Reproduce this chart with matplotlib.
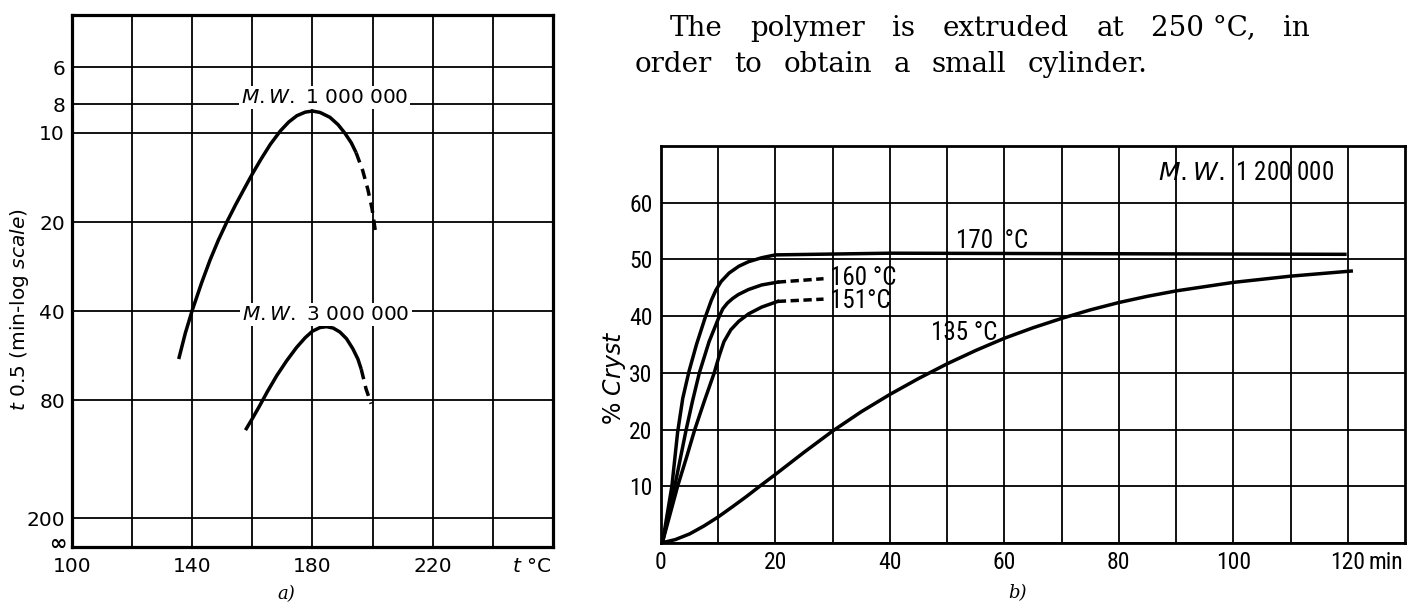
import matplotlib
matplotlib.use("Agg")
import matplotlib.pyplot as plt
from matplotlib import font_manager
from matplotlib.font_manager import FontProperties
from matplotlib.ticker import FixedLocator, FixedFormatter, NullLocator

# ---------------- data: panel a) (t 0.5 vs temperature, log scale) ----------------
a_xticks = [100, 120, 140, 160, 180, 200, 220, 240]
a_xlabels = ["100", "", "140", "", "180", "", "220", ""]
a_yticks = [6, 8, 10, 20, 40, 80, 200, 250]
a_ylabels = ["6", "8", "10", "20", "40", "80", "200", ""]
a_inf_label = "\u221e"

mw1_T = [135.5, 137.7, 140, 143.1, 145.9, 148.7, 151.5, 154.4, 157.2, 160, 162.8,
         166.0, 169.3, 172.1, 174.8, 177.6, 180, 182.5, 185.8, 188.5, 190.7, 192.9, 194.5]
mw1_t = [58.0, 47.4, 39.7, 32.1, 26.9, 23.0, 20.0, 17.5, 15.5, 13.75, 12.3,
         10.92, 9.85, 9.19, 8.75, 8.51, 8.44, 8.53, 8.86, 9.38, 10.0, 10.8, 11.66]
mw1_T_dash = [194.5, 196.7, 198.4, 199.8, 201.1]
mw1_t_dash = [11.66, 13.4, 15.5, 18.0, 22.1]

mw3_T = [157.7, 160, 162.2, 164.9, 168.1, 171.4, 174.7, 177.6, 180, 182.5, 184.7,
         186.9, 189.1, 191.3, 193.4, 195.1, 196.2]
mw3_t = [100.8, 92.1, 84.2, 75.0, 66.0, 58.8, 53.0, 49.1, 46.7, 45.4, 45.1,
         45.6, 47.0, 49.5, 53.5, 58.0, 62.7]
mw3_T_dash = [196.2, 197.8, 199.5]
mw3_t_dash = [62.7, 73.1, 82.1]

# ---------------- data: panel b) (% crystallinity vs time) ----------------
b_xticks = [0, 10, 20, 30, 40, 50, 60, 70, 80, 90, 100, 110, 120]
b_xlabels = ["0", "", "20", "", "40", "", "60", "", "80", "", "100", "", "120"]
b_yticks = [0, 10, 20, 30, 40, 50, 60]
b_ylabels = ["", "10", "20", "30", "40", "50", "60"]

c170_t = [0.3, 1.9, 2.9, 3.8, 4.9, 6.2, 7.8, 8.8, 9.6, 10.5, 11.9, 13.6, 15.3, 17.6,
          20.0, 40, 80, 119.5]
c170_y = [0.3, 10, 19.5, 25.5, 30.3, 35, 40, 42.8, 44.6, 46.1, 47.6, 48.8, 49.6, 50.3,
          50.8, 51.1, 51.0, 50.9]

c160_t = [0.3, 2.4, 3.4, 4.4, 5.5, 6.7, 8.4, 10.2, 10.8, 11.6, 12.5, 13.5, 15.3, 17.6, 20.4]
c160_y = [0.3, 10, 15, 20, 25, 30, 35.5, 40, 41.3, 42.3, 43.1, 43.8, 44.7, 45.5, 46.0]
c160_t_dash = [20.4, 28.4]
c160_y_dash = [46.0, 46.6]

c151_t = [0.3, 2.9, 4.4, 5.9, 7.6, 9.3, 10.2, 11.0, 12.2, 13.6, 15.3, 17.6, 20.4]
c151_y = [0.3, 10, 14.9, 20, 25.1, 30, 33.1, 35.5, 37.6, 39.1, 40.4, 41.6, 42.6]
c151_t_dash = [20.4, 28.4]
c151_y_dash = [42.6, 43.0]

c135_t = [0, 2.5, 5, 7.5, 10, 12.5, 15, 17.5, 20, 25, 30, 35, 40, 45, 50, 55, 60, 65,
          70, 75, 80, 85, 90, 95, 100, 110, 120.6]
c135_y = [0, 0.6, 1.6, 3.0, 4.6, 6.4, 8.25, 10.2, 12.1, 16.0, 19.75, 23.15, 26.2, 29.0,
          31.6, 33.95, 36.1, 37.95, 39.6, 41.1, 42.4, 43.5, 44.45, 45.2, 45.95, 47.05, 47.95]

# ---------------- fonts ----------------
def pick(fams, default="DejaVu Sans"):
    for f in fams:
        try:
            font_manager.findfont(FontProperties(family=f), fallback_to_default=False)
            return f
        except Exception:
            pass
    return default

narrow = pick(["Liberation Sans Narrow", "DejaVu Sans Condensed", "Roboto Condensed"])
plt.rcParams["font.family"] = ["DejaVu Sans"]
plt.rcParams["mathtext.fontset"] = "custom"
plt.rcParams["mathtext.it"] = "DejaVu Sans:italic"
plt.rcParams["mathtext.rm"] = "DejaVu Sans"

W, H = 1414, 605
fig = plt.figure(figsize=(W / 100, H / 100), dpi=100)
fig.patch.set_facecolor("white")

def fx(px):
    return px / W

def fy(py):
    return 1 - py / H

LW = 2.5
GRID = dict(color="black", linewidth=1.3)

# ---------------- panel a ----------------
axA = fig.add_axes([fx(72), fy(547), (553 - 72) / W, (547 - 15) / H])
axA.set_yscale("log")
axA.set_xlim(100, 260)
axA.set_ylim(250, 4)
axA.xaxis.set_major_locator(FixedLocator(a_xticks))
axA.xaxis.set_major_formatter(FixedFormatter(a_xlabels))
axA.yaxis.set_major_locator(FixedLocator(a_yticks))
axA.yaxis.set_major_formatter(FixedFormatter(a_ylabels))
axA.yaxis.set_minor_locator(NullLocator())
axA.grid(True, **GRID)
axA.tick_params(length=0, labelsize=14.5)
axA.tick_params(axis="x", pad=7)
axA.tick_params(axis="y", pad=5)
for s in axA.spines.values():
    s.set_linewidth(2.3)

kw = dict(color="black", lw=LW, solid_capstyle="butt", solid_joinstyle="round")
axA.plot(mw1_T, mw1_t, **kw)
axA.plot(mw1_T_dash, mw1_t_dash, color="black", lw=LW, ls=(0, (3, 2)))
axA.plot(mw3_T, mw3_t, **kw)
axA.plot(mw3_T_dash, mw3_t_dash, color="black", lw=LW, ls=(0, (3, 2)))

box = dict(facecolor="white", edgecolor="none", pad=1.5)
axA.text(184, 7.6, r"$\mathit{M.W.}$ 1 000 000", ha="center", va="center",
         fontsize=14.5, bbox=box, zorder=5)
axA.text(184.5, 41, r"$\mathit{M.W.}$ 3 000 000", ha="center", va="center",
         fontsize=14.5, bbox=box, zorder=5)
axA.annotate(r"$\mathit{t}$ °C", xy=(1, 0), xycoords="axes fraction",
             xytext=(-1, -7), textcoords="offset points", ha="right", va="top",
             fontsize=14.5)
axA.annotate(a_inf_label, xy=(0, a_yticks[-1]), xycoords=("axes fraction", "data"),
             xytext=(-4, 2), textcoords="offset points", ha="right", va="center",
             fontsize=15, fontweight="bold")
fig.text(fx(20), fy(310), r"$\mathit{t}$ 0.5 (min-log $\mathit{scale}$)",
         rotation=90, ha="center", va="center", fontsize=14.5)

# ---------------- panel b ----------------
axB = fig.add_axes([fx(661), fy(543), (1405 - 661) / W, (543 - 146) / H])
axB.set_xlim(0, 130)
axB.set_ylim(0, 70)
axB.xaxis.set_major_locator(FixedLocator(b_xticks))
axB.xaxis.set_major_formatter(FixedFormatter(b_xlabels))
axB.yaxis.set_major_locator(FixedLocator(b_yticks))
axB.yaxis.set_major_formatter(FixedFormatter(b_ylabels))
axB.grid(True, **GRID)
axB.tick_params(length=0, pad=6, labelsize=17, labelfontfamily=narrow)
for s in axB.spines.values():
    s.set_linewidth(2.0)

kwb = dict(color="black", lw=LW, solid_joinstyle="round")
axB.plot(c170_t, c170_y, **kwb)
axB.plot(c160_t, c160_y, **kwb)
axB.plot(c160_t_dash, c160_y_dash, color="black", lw=LW, ls=(0, (2.4, 1.3)))
axB.plot(c151_t, c151_y, **kwb)
axB.plot(c151_t_dash, c151_y_dash, color="black", lw=LW, ls=(0, (2.4, 1.3)))
axB.plot(c135_t, c135_y, **kwb)

lab = dict(fontsize=18, family=narrow, va="center", ha="left")
axB.text(51.5, 53.3, "170  °C", **lab)
axB.text(29.6, 46.8, "160 °C", **lab)
axB.text(29.6, 42.7, "151°C", **lab)
axB.text(47.2, 37.0, "135 °C", **lab)
axB.text(86.8, 65.3, r"$\mathit{M.W.}$ 1 200 000", fontsize=18, family=narrow,
         va="center", ha="left")
fig.text(fx(615), fy(378), r"% $\mathit{Cryst}$", rotation=90, ha="center",
         va="center", fontsize=17)

# panel captions
fig.text(fx(286), fy(594), "a)", family="DejaVu Serif", style="italic",
         fontsize=13, ha="center", va="center")
fig.text(fx(1017), fy(593), "b)", family="DejaVu Serif", style="italic",
         fontsize=13, ha="center", va="center")

# ---------------- header text (justified lines) ----------------
fig.canvas.draw()
renderer = fig.canvas.get_renderer()

def justify(words, x0, x1, ybase, fs):
    texts = [fig.text(0, 0, w, fontsize=fs, family="DejaVu Serif", va="baseline",
                      ha="left") for w in words]
    widths = [t.get_window_extent(renderer).width for t in texts]
    gap = (x1 - x0 - sum(widths)) / (len(words) - 1)
    x = x0
    for t, w in zip(texts, widths):
        t.set_position((fx(x), fy(ybase)))
        x += w + gap

justify(["The", "polymer", "is", "extruded", "at", "250\u00a0°C,", "in"], 670, 1310, 36.5, 20)
justify(["order", "to", "obtain", "a", "small", "cylinder."], 635, 1148, 71.7, 20)

# "min" unit after the 120 tick label
fig.canvas.draw()
lbl = axB.get_xticklabels()[12]
bb = lbl.get_window_extent(renderer)
fig.text(fx(bb.x1 + 3), bb.y0 / H, "min", fontsize=17, family=narrow,
         ha="left", va="bottom")

fig.savefig("out.png", dpi=100, facecolor="white")
